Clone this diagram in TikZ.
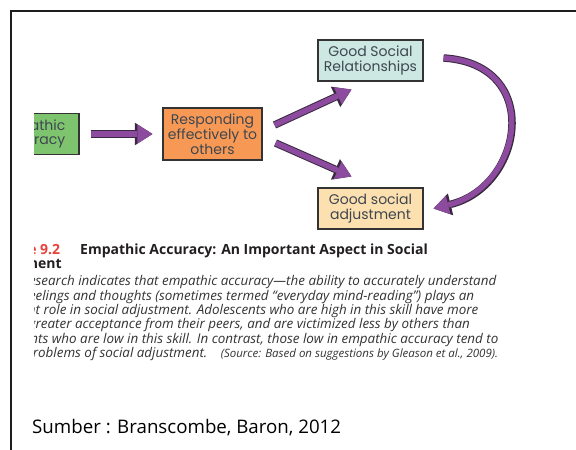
\documentclass[tikz,border=0pt]{standalone}
\usepackage{fontspec}
\setmainfont{Open Sans}
\newfontfamily\boxfont{Poppins}
\newfontfamily\figfont{Open Sans}
\newfontfamily\srcfont{Open Sans}
\usetikzlibrary{arrows.meta,calc}

\definecolor{framecol}{HTML}{1E1E1E}
\definecolor{greenfill}{HTML}{7EC46E}
\definecolor{orangefill}{HTML}{F79955}
\definecolor{tealfill}{HTML}{CDE8E2}
\definecolor{peachfill}{HTML}{FDE0AF}
\definecolor{boxline}{HTML}{333333}
\definecolor{boxtext}{HTML}{3E4650}
\definecolor{arrowfill}{HTML}{8C4B9E}
\definecolor{arrowline}{HTML}{3A2A40}
\definecolor{figred}{HTML}{E8413C}
\definecolor{headtext}{HTML}{231F20}
\definecolor{bodytext}{HTML}{333333}

\tikzset{
  flowbox/.style={draw=boxline, line width=1.1pt, align=center, inner sep=0pt,
    text=boxtext, font=\boxfont\fontsize{14}{14.2}\selectfont},
  bigarrow/.style={draw=arrowfill, line width=5.5pt,
    -{Triangle[length=15pt,width=19pt,line width=0pt]},
    preaction={draw=arrowline, line width=7.5pt,
      -{Triangle[length=17.5pt,width=22.5pt,line width=0pt]}}},
  headline/.style={anchor=base west, inner sep=0pt, text=headtext,
    font=\figfont\bfseries\fontsize{14}{16}\selectfont},
  bodyline/.style={anchor=base west, inner sep=0pt, text=bodytext,
    font=\figfont\itshape\fontsize{13.4}{14}\selectfont},
}

\begin{document}
\begin{tikzpicture}[x=1pt,y=-1pt]
\useasboundingbox (0,0) rectangle (576,450);
\fill[white] (0,0) rectangle (576,450);

% slide frame
\draw[framecol, line width=1.6pt] (11,450) -- (11,11) -- (576,11);

% cropped textbook figure
\begin{scope}
  \clip (34,0) rectangle (576,380);

  \node[flowbox, fill=greenfill, minimum width=94pt, minimum height=41pt] (acc) at (32,134) {Empathic\\Accuracy};
  \node[flowbox, fill=orangefill, minimum width=99pt, minimum height=52pt] (resp) at (212.5,134) {Responding\\effectively to\\others};
  \node[flowbox, fill=tealfill, minimum width=105pt, minimum height=41pt] (rel) at (370.5,60.5) {Good Social\\Relationships};
  \node[flowbox, fill=peachfill, minimum width=105pt, minimum height=41pt] (adj) at (370.5,208.5) {Good social\\adjustment};

  \draw[bigarrow, shorten <=11pt, shorten >=10pt] (acc) -- (resp);
  \coordinate (up1) at ($(resp.east)+(12,-9)$);
  \coordinate (up2) at ($(rel.south west)+(34,8)$);
  \coordinate (dn1) at ($(resp.east)+(13,9)$);
  \coordinate (dn2) at ($(adj.north west)+(34,-11)$);
  \coordinate (cv1) at ($(rel.east)+(20,-2.5)$);
  \coordinate (cv2) at ($(adj.east)+(10,0)$);
  \draw[bigarrow] (up1) -- (up2);
  \draw[bigarrow] (dn1) -- (dn2);
  \draw[bigarrow] (cv1) .. controls +(100,6) and +(90,-22) .. (cv2);

  \node[headline, text=figred] (fignum) at (40,254) {\llap{Figure }9.2};
  \node[headline] (figtitle) at (80,254) {Empathic Accuracy: An Important Aspect in Social};
  \node[headline] (figtitle2) at (38,268) {\llap{Adjustm}ent};

  \node[bodyline] (b1) at (35.5,285) {\llap{Re}search indicates that empathic accuracy—the ability to accurately understand};
  \node[bodyline] (b2) at (35.5,300) {\llap{others’ fe}elings and thoughts (sometimes termed “everyday mind-reading”) plays an};
  \node[bodyline] (b3) at (35.5,314) {\llap{importan}t role in social adjustment. Adolescents who are high in this skill have more};
  \node[bodyline] (b4) at (35.5,328) {\llap{g}reater acceptance from their peers, and are victimized less by others than};
  \node[bodyline] (b5) at (38,343) {\llap{adolescen}ts who are low in this skill. In contrast, those low in empathic accuracy tend to};
  \node[bodyline] (b6) at (38,357) {\llap{have pr}oblems of social adjustment.\quad{\fontsize{11.5}{12}\selectfont(Source: Based on suggestions by Gleason et al., 2009).}};
\end{scope}

\node[anchor=base west, inner sep=0pt, text=black, font=\srcfont\fontsize{18.7}{20}\selectfont] (src) at (32,433) {Sumber : Branscombe, Baron, 2012};
\end{tikzpicture}
\end{document}
